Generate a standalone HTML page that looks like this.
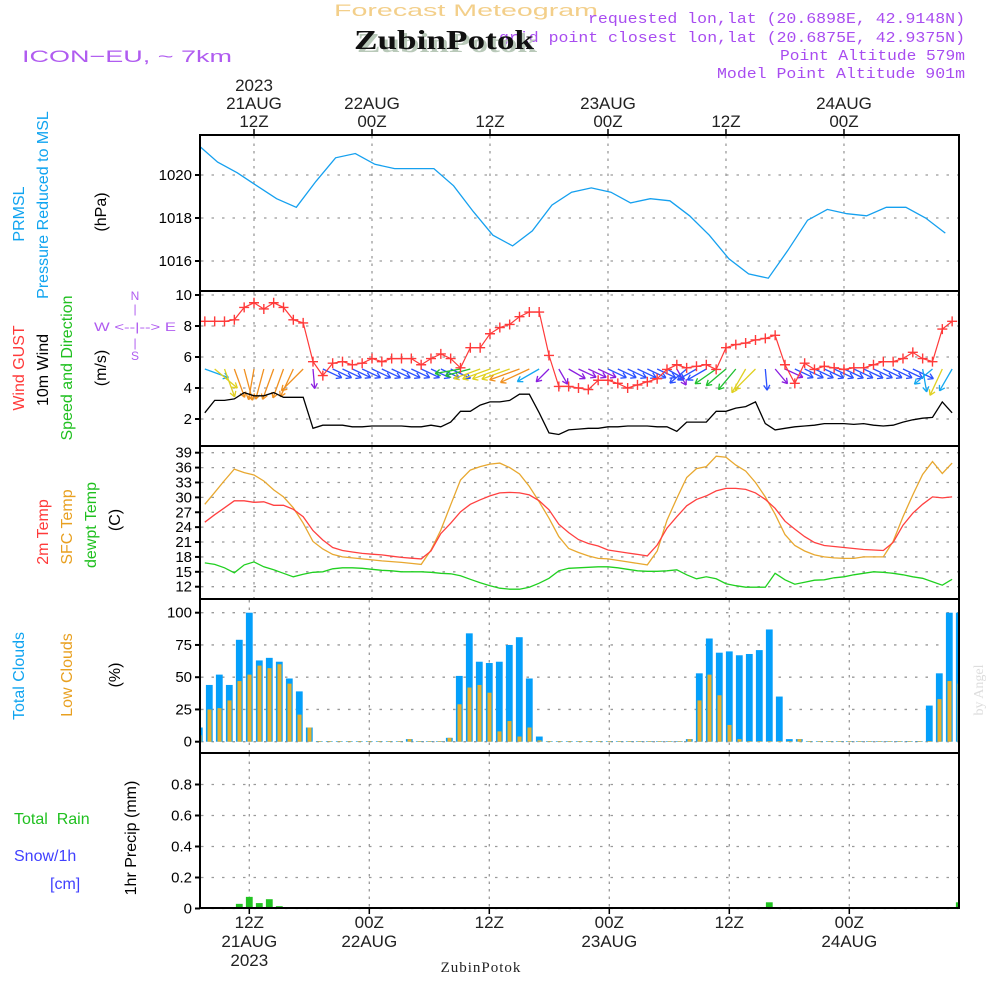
<!DOCTYPE html>
<html><head><meta charset="utf-8"><title>Forecast Meteogram ZubinPotok</title>
<style>
html,body{margin:0;padding:0;background:#fff;}
svg{display:block;font-family:"Liberation Sans",sans-serif;}
</style></head>
<body>
<svg id="chart" xmlns="http://www.w3.org/2000/svg" width="1000" height="1000" viewBox="0 0 1000 1000">
<defs>
<clipPath id="c1"><rect x="201" y="136" width="758" height="154"/></clipPath>
<clipPath id="c2"><rect x="201" y="292" width="758" height="152"/></clipPath>
<clipPath id="c3"><rect x="201" y="447" width="758" height="151"/></clipPath>
<clipPath id="c4"><rect x="201" y="601" width="758" height="150"/></clipPath>
<clipPath id="c5"><rect x="201" y="754" width="758" height="154"/></clipPath>
</defs>
<rect width="1000" height="1000" fill="#fff"/>

<g>
<text x="334" y="16" font-size="17" fill="#f3cf8a" textLength="264" lengthAdjust="spacingAndGlyphs">Forecast Meteogram</text>
<text x="22" y="62" font-size="17" fill="#b05cf0" textLength="210" lengthAdjust="spacingAndGlyphs">ICON−EU, ~ 7km</text>
<g font-family="Liberation Mono, monospace" font-size="15" fill="#a84cf0" text-anchor="end">
<text x="965" y="23" textLength="377" lengthAdjust="spacingAndGlyphs">requested lon,lat (20.6898E, 42.9148N)</text>
<text x="965" y="42" textLength="466" lengthAdjust="spacingAndGlyphs">grid point closest lon,lat (20.6875E, 42.9375N)</text>
<text x="965" y="60" textLength="185" lengthAdjust="spacingAndGlyphs">Point Altitude 579m</text>
<text x="965" y="78" textLength="248" lengthAdjust="spacingAndGlyphs">Model Point Altitude 901m</text>
</g>
<text x="357" y="52" font-family="Liberation Serif, serif" font-weight="bold" font-size="27" fill="#b9c9b9" textLength="180" lengthAdjust="spacingAndGlyphs">ZubinPotok</text>
<text x="354" y="49" font-family="Liberation Serif, serif" font-weight="bold" font-size="27" fill="#111" textLength="180" lengthAdjust="spacingAndGlyphs">ZubinPotok</text>
</g>

<g id="grid"></g>
<g id="marks"></g>
<g id="frames" fill="none" stroke="#000" stroke-width="2">
<rect x="200" y="135" width="759" height="773"/>
<line x1="200" y1="291" x2="959" y2="291"/>
<line x1="200" y1="446" x2="959" y2="446"/>
<line x1="200" y1="599" x2="959" y2="599"/>
<line x1="200" y1="753" x2="959" y2="753"/>
</g>
<g id="axes"></g>

<g font-size="16" text-anchor="middle">
<text transform="translate(24,214) rotate(-90)" fill="#10a4f0">PRMSL</text>
<text transform="translate(48,205) rotate(-90)" fill="#10a4f0">Pressure Reduced to MSL</text>
<text transform="translate(106,212) rotate(-90)" fill="#000">(hPa)</text>
<text transform="translate(24,368) rotate(-90)" fill="#ff3a3a">Wind GUST</text>
<text transform="translate(48,370) rotate(-90)" fill="#000">10m Wind</text>
<text transform="translate(72,368) rotate(-90)" fill="#20c020">Speed and Direction</text>
<text transform="translate(106,368) rotate(-90)" fill="#000">(m/s)</text>
<text transform="translate(48,532) rotate(-90)" fill="#ff3a3a">2m Temp</text>
<text transform="translate(72,527) rotate(-90)" fill="#e8a020">SFC Temp</text>
<text transform="translate(96,525) rotate(-90)" fill="#20c020">dewpt Temp</text>
<text transform="translate(120,520) rotate(-90)" fill="#000">(C)</text>
<text transform="translate(24,676) rotate(-90)" fill="#10a4f0">Total Clouds</text>
<text transform="translate(72,675) rotate(-90)" fill="#e8a020">Low Clouds</text>
<text transform="translate(120,675) rotate(-90)" fill="#000">(%)</text>
<text transform="translate(136,838) rotate(-90)" fill="#000">1hr Precip (mm)</text>
</g>
<g font-size="16" text-anchor="start">
<text x="14" y="824" fill="#20c020" xml:space="preserve">Total  Rain</text>
<text x="14" y="861" fill="#4040ff">Snow/1h</text>
<text x="50" y="889" fill="#4040ff">[cm]</text>
</g>
<g font-size="12" fill="#b05cf0" text-anchor="middle">
<text x="135" y="300">N</text>
<text x="135" y="313">|</text>
<text x="135" y="331" textLength="82" lengthAdjust="spacingAndGlyphs" xml:space="preserve">W &lt;--|--&gt; E</text>
<text x="135" y="347">|</text>
<text x="135" y="360">S</text>
</g>
<text transform="translate(983,690) rotate(-90)" font-family="Liberation Serif, serif" font-size="14" fill="#dddddd" text-anchor="middle">by Angel</text>
<text x="481" y="972" font-family="Liberation Serif, serif" font-size="15" fill="#222" text-anchor="middle" letter-spacing="1">ZubinPotok</text>
</svg>

<script>
const presHours = [6.3,8.3,10.3,12.3,14.3,16.3,18.3,20.3,22.3,24.3,26.3,28.3,30.3,32.3,34.3,36.3,38.3,40.3,42.3,44.3,46.3,48.3,50.3,52.3,54.3,56.3,58.3,60.3,62.3,64.3,66.3,68.3,70.3,72.3,74.3,76.3,78.3,80.3,82.3];
const pressure = [1021.4,1020.6,1020.1,1019.5,1018.9,1018.5,1019.7,1020.8,1021.0,1020.5,1020.3,1020.3,1020.3,1019.5,1018.3,1017.2,1016.7,1017.4,1018.6,1019.2,1019.4,1019.2,1018.7,1018.9,1018.8,1018.1,1017.2,1016.1,1015.4,1015.2,1016.5,1017.9,1018.4,1018.2,1018.1,1018.5,1018.5,1018.0,1017.3];

const startHour = 7;
const gust = [8.3,8.3,8.3,8.4,9.2,9.5,9.1,9.5,9.2,8.4,8.2,5.7,4.8,5.6,5.7,5.5,5.6,5.9,5.7,5.9,5.9,5.9,5.5,5.9,6.2,5.9,5.3,6.6,6.6,7.5,7.9,8.1,8.6,8.9,8.9,6.1,4.1,4.1,4.0,3.9,4.5,4.5,4.3,4.0,4.2,4.4,4.6,5.2,5.5,5.3,5.4,5.5,5.2,6.6,6.8,6.9,7.1,7.2,7.4,5.5,4.3,5.6,5.2,5.4,5.3,5.2,5.3,5.3,5.5,5.7,5.7,5.9,6.3,5.9,5.7,7.8,8.3];
const windSpeed = [2.4,3.2,3.2,3.3,3.7,3.5,3.5,3.7,3.4,3.4,3.4,1.4,1.6,1.6,1.6,1.5,1.5,1.55,1.55,1.55,1.55,1.5,1.5,1.6,1.5,1.8,2.5,2.5,2.9,3.1,3.1,3.2,3.6,3.6,2.4,1.1,1.0,1.3,1.35,1.4,1.4,1.5,1.5,1.55,1.55,1.55,1.5,1.5,1.2,1.8,1.8,1.8,2.5,2.5,2.7,2.8,3.1,1.7,1.3,1.4,1.5,1.55,1.6,1.7,1.7,1.7,1.65,1.7,1.6,1.55,1.6,1.8,1.95,2.05,2.1,3.1,2.4];
const windDir = [290,310,340,340,345,10,15,20,20,25,45,355,295,295,295,295,295,295,295,295,295,295,295,295,295,295,80,75,70,70,70,70,70,65,60,45,330,300,295,295,295,295,295,295,295,295,295,300,330,50,60,60,55,50,40,30,45,355,320,295,295,295,295,295,295,295,295,295,295,295,295,295,295,350,50,25,30];
const temp2m = [25.0,26.5,27.9,29.3,29.3,29.0,29.1,28.4,28.4,27.6,26.1,23.3,21.4,19.9,19.3,19.0,18.7,18.55,18.4,18.15,17.9,17.75,17.6,19.2,22.7,24.8,27.1,28.6,29.5,30.3,30.9,31.0,30.9,30.5,29.3,27.5,24.6,22.9,21.5,20.7,20.2,19.4,19.1,18.8,18.5,18.2,20.4,23.8,26.1,28.3,29.6,30.3,31.3,31.8,31.8,31.6,30.9,29.6,27.8,25.2,23.6,22.1,20.9,20.3,20.1,19.9,19.7,19.5,19.4,19.3,20.9,24.4,26.8,28.6,30.1,29.9,30.1];
const tempSfc = [28.6,31.0,33.4,35.7,35.0,34.5,33.3,31.5,30.1,27.9,24.8,21.1,19.6,18.5,18.0,17.8,17.6,17.4,17.2,17.05,16.9,16.7,16.5,19.4,23.4,28.5,33.5,35.5,36.2,36.7,36.9,36.0,34.7,32.2,29.1,25.8,22.1,19.7,18.9,18.2,17.7,17.6,17.3,17.0,16.7,16.4,19.2,25.4,29.8,34.0,35.8,36.2,38.3,38.1,36.5,35.3,33.0,30.1,26.6,22.5,20.3,19.2,18.4,18.0,17.8,17.7,17.7,18.0,18.0,18.0,21.1,26.1,30.5,34.6,37.2,34.8,36.9];
const dewpt = [16.8,16.5,15.8,14.8,16.4,17.0,16.0,15.4,14.7,14.0,14.5,14.9,15.0,15.6,15.8,15.8,15.7,15.5,15.3,15.2,15.0,15.0,15.0,14.9,14.7,14.6,14.2,13.5,12.8,12.2,11.7,11.5,11.5,11.9,12.7,13.7,15.2,15.7,15.8,15.9,16.0,16.0,15.8,15.5,15.2,15.1,15.1,15.2,15.4,14.4,13.6,14.0,13.6,12.6,12.2,11.9,11.9,11.9,14.7,13.4,12.5,12.9,13.3,13.4,13.8,14.0,14.4,14.7,15.0,14.9,14.7,14.4,14.0,13.7,13.0,12.3,13.5];
const totalClouds = [11,44,52,44,79,100,63,65,62,49,39,11,0.5,0.5,0.5,0.5,0.5,0.5,0.5,0.5,0.5,2,0.5,0.5,0.5,3,51,84,62,61,62,75,81,49,4,0.5,0.5,0.5,0.5,0.5,0.5,0.5,0.5,0.5,0.5,0.5,0.5,0.5,0.5,2,53,80,69,70,67,68,71,87,35,2,2,0.5,0.5,0.5,0.5,0.5,0.5,0.5,0.5,0.5,0.5,0.5,0.5,28,53,100,100];
const lowClouds = [5,25,26,32,47,52,59,57,60,45,21,11,0.5,0.5,0.5,0.5,0.5,0.5,0.5,0.5,0.5,2,0.5,0.5,0.5,3,29,42,44,38,8,16,4,11,1,0.5,0.5,0.5,0.5,0.5,0.5,0.5,0.5,0.5,0.5,0.5,0.5,0.5,0.5,2,32,52,36,13,2,0.5,0.5,0.5,0.5,0.5,2,0.5,0.5,0.5,0.5,0.5,0.5,0.5,0.5,0.5,0.5,0.5,0.5,0.5,33,47,45];
const precipHours = [11,12,13,14,15,64,83];
const precip = [0.03,0.075,0.035,0.06,0.015,0.04,0.04];

const presTicks = [1016,1018,1020];
const windTicks = [2,4,6,8,10];
const tempTicks = [12,15,18,21,24,27,30,33,36,39];
const cloudTicks = [0,25,50,75,100];
const precipTicks = [0,0.2,0.4,0.6,0.8];
const timeTickHours = [12,24,36,48,60,72];
const topTimeLabels = [["2023","21AUG","12Z"],["","22AUG","00Z"],["","","12Z"],["","23AUG","00Z"],["","","12Z"],["","24AUG","00Z"]];
const bottomTimeLabels = [["12Z","21AUG","2023"],["00Z","22AUG",""],["12Z","",""],["00Z","23AUG",""],["12Z","",""],["00Z","24AUG",""]];

const NS = "http://www.w3.org/2000/svg";
const xTop = h => 254 + (h - 12) * 9.833;
const xBot = h => 249.3 + (h - 12) * 10.0;
const yPres = p => 175 + (1020 - p) * 21.5;
const yWind = v => 450 - v * 15.5;
const yTemp = t => 586.7 - (t - 12) * 4.963;
const yCloud = c => 741.7 - c * 1.29;
const yPrecip = v => 908.5 - v * 155;

function mk(tag, attrs, parent) {
  const e = document.createElementNS(NS, tag);
  for (const k in attrs) e.setAttribute(k, attrs[k]);
  parent.appendChild(e);
  return e;
}
const grid = document.getElementById('grid');
const marks = document.getElementById('marks');
const axes = document.getElementById('axes');

const panels = [
  {top:136,bot:290,ticks:presTicks,y:yPres,fmt:v=>String(v),x:xTop,name:'pressure'},
  {top:292,bot:445,ticks:windTicks,y:yWind,fmt:v=>String(v),x:xTop,name:'wind'},
  {top:447,bot:598,ticks:tempTicks,y:yTemp,fmt:v=>String(v),x:xTop,name:'temp'},
  {top:600,bot:752,ticks:cloudTicks,y:yCloud,fmt:v=>String(v),x:xBot,name:'cloud'},
  {top:754,bot:908,ticks:precipTicks,y:yPrecip,fmt:v=>v===0?'0':v.toFixed(1),x:xBot,name:'precip'}
];
panels.forEach(p => {
  p.ticks.forEach(t => {
    const y = p.y(t);
    const gl = mk('line',{x1:201,x2:958,y1:y,y2:y,stroke:'#9a9a9a','stroke-width':1.3,'stroke-dasharray':'2.5,8'},grid);
    
    
    mk('line',{x1:195,x2:200,y1:y,y2:y,stroke:'#000','stroke-width':2},axes);
    const tl = mk('text',{x:192,y:y+5,'font-size':15,'text-anchor':'end',fill:'#000'},axes);
    tl.textContent = p.fmt(t);
    
    
  });
  timeTickHours.forEach(h => {
    const x = p.x(h);
    const vl = mk('line',{x1:x,x2:x,y1:p.top,y2:p.bot,stroke:'#9a9a9a','stroke-width':1.3,'stroke-dasharray':'2.5,5'},grid);
    
    
  });
});
timeTickHours.forEach((h, i) => {
  const xt = xTop(h);
  mk('line',{x1:xt,x2:xt,y1:129,y2:135,stroke:'#000','stroke-width':1.5},axes);
  topTimeLabels[i].forEach((s, j) => {
    if (!s) return;
    const t = mk('text',{x:xt,y:91+j*18,'font-size':17,'text-anchor':'middle',fill:'#222'},axes);
    t.textContent = s;
    
    
  });
  const xb = xBot(h);
  mk('line',{x1:xb,x2:xb,y1:908,y2:914,stroke:'#000','stroke-width':1.5},axes);
  bottomTimeLabels[i].forEach((s, j) => {
    if (!s) return;
    const t = mk('text',{x:xb,y:928+j*19,'font-size':17,'text-anchor':'middle',fill:'#222'},axes);
    t.textContent = s;
    
    
  });
});

function linePath(xs, ys) {
  return xs.map((x, i) => (i ? 'L' : 'M') + x.toFixed(1) + ',' + ys[i].toFixed(1)).join(' ');
}
const hoursOf = arr => arr.map((_, i) => startHour + i);

const gP = mk('g',{'clip-path':'url(#c1)'},marks);
const pl = mk('path',{d:linePath(presHours.map(xTop), pressure.map(yPres)),fill:'none',stroke:'#15a0ef','stroke-width':1.3},gP);



const gW = mk('g',{'clip-path':'url(#c2)'},marks);
const wHours = hoursOf(windSpeed);
function speedColor(s) {
  if (s < 1.45) return '#8a1ee0';
  if (s < 2.0) return '#2a50ff';
  if (s < 2.45) return '#14a8f0';
  if (s < 2.8) return '#20c030';
  if (s < 3.3) return '#e0d020';
  return '#f09020';
}
wHours.forEach((h, i) => {
  const s = windSpeed[i];
  const toward = (windDir[i] + 180) * Math.PI / 180;
  const L = 12 + 5.5 * s;
  const x0 = xTop(h), y0 = 369;
  const dx = Math.sin(toward), dy = -Math.cos(toward);
  const x1 = x0 + dx * L, y1 = y0 + dy * L;
  const col = speedColor(s);
  const g = mk('g',{stroke:col,'stroke-width':1.3,fill:'none'},gW);
  
  
  mk('line',{x1:x0,y1:y0,x2:x1,y2:y1},g);
  const a = Math.atan2(dy, dx);
  [2.6, -2.6].forEach(off => {
    mk('line',{x1:x1,y1:y1,x2:x1 + 6*Math.cos(a+off),y2:y1 + 6*Math.sin(a+off)},g);
  });
});
const sl = mk('path',{d:linePath(wHours.map(xTop), windSpeed.map(yWind)),fill:'none',stroke:'#000','stroke-width':1.3},gW);


const gl2 = mk('path',{d:linePath(hoursOf(gust).map(xTop), gust.map(yWind)),fill:'none',stroke:'#ff3a3a','stroke-width':1.2},gW);


hoursOf(gust).forEach((h, i) => {
  const x = xTop(h), y = yWind(gust[i]);
  const m = mk('path',{d:`M${x-5},${y}H${x+5}M${x},${y-5}V${y+5}`,stroke:'#ff3a3a','stroke-width':1.4},gW);
  
  
});

const gT = mk('g',{'clip-path':'url(#c3)'},marks);
[[tempSfc,'#e8a830','sfc-temp-line'],[temp2m,'#ff4040','temp-2m-line'],[dewpt,'#20d020','dewpt-line']].forEach(([arr, col, nm]) => {
  const p = mk('path',{d:linePath(hoursOf(arr).map(xTop), arr.map(yTemp)),fill:'none',stroke:col,'stroke-width':1.3},gT);
  
  
});

const gC = mk('g',{'clip-path':'url(#c4)'},marks);
hoursOf(totalClouds).forEach((h, i) => {
  const xc = xBot(h);
  const yt = yCloud(totalClouds[i]);
  const r = mk('rect',{x:xc-3.4,y:yt,width:6.8,height:yCloud(0)-yt,fill:'#049ffa'},gC);
  
  
  const yl = yCloud(lowClouds[i]);
  const r2 = mk('rect',{x:xc-1.8,y:yl,width:4,height:yCloud(0)-yl,fill:'#e6b02c'},gC);
  
  
});

const gR = mk('g',{'clip-path':'url(#c5)'},marks);
precipHours.forEach((h, i) => {
  const xc = xBot(h);
  const yt = yPrecip(precip[i]);
  const r = mk('rect',{x:xc-3.4,y:yt,width:6.8,height:yPrecip(0)-yt,fill:'#22c322'},gR);
  
  
});
const zl = mk('line',{x1:201,x2:958,y1:yPrecip(0),y2:yPrecip(0),stroke:'#000','stroke-width':1.5,'stroke-dasharray':'6,3'},gR);


</script>
</body></html>
